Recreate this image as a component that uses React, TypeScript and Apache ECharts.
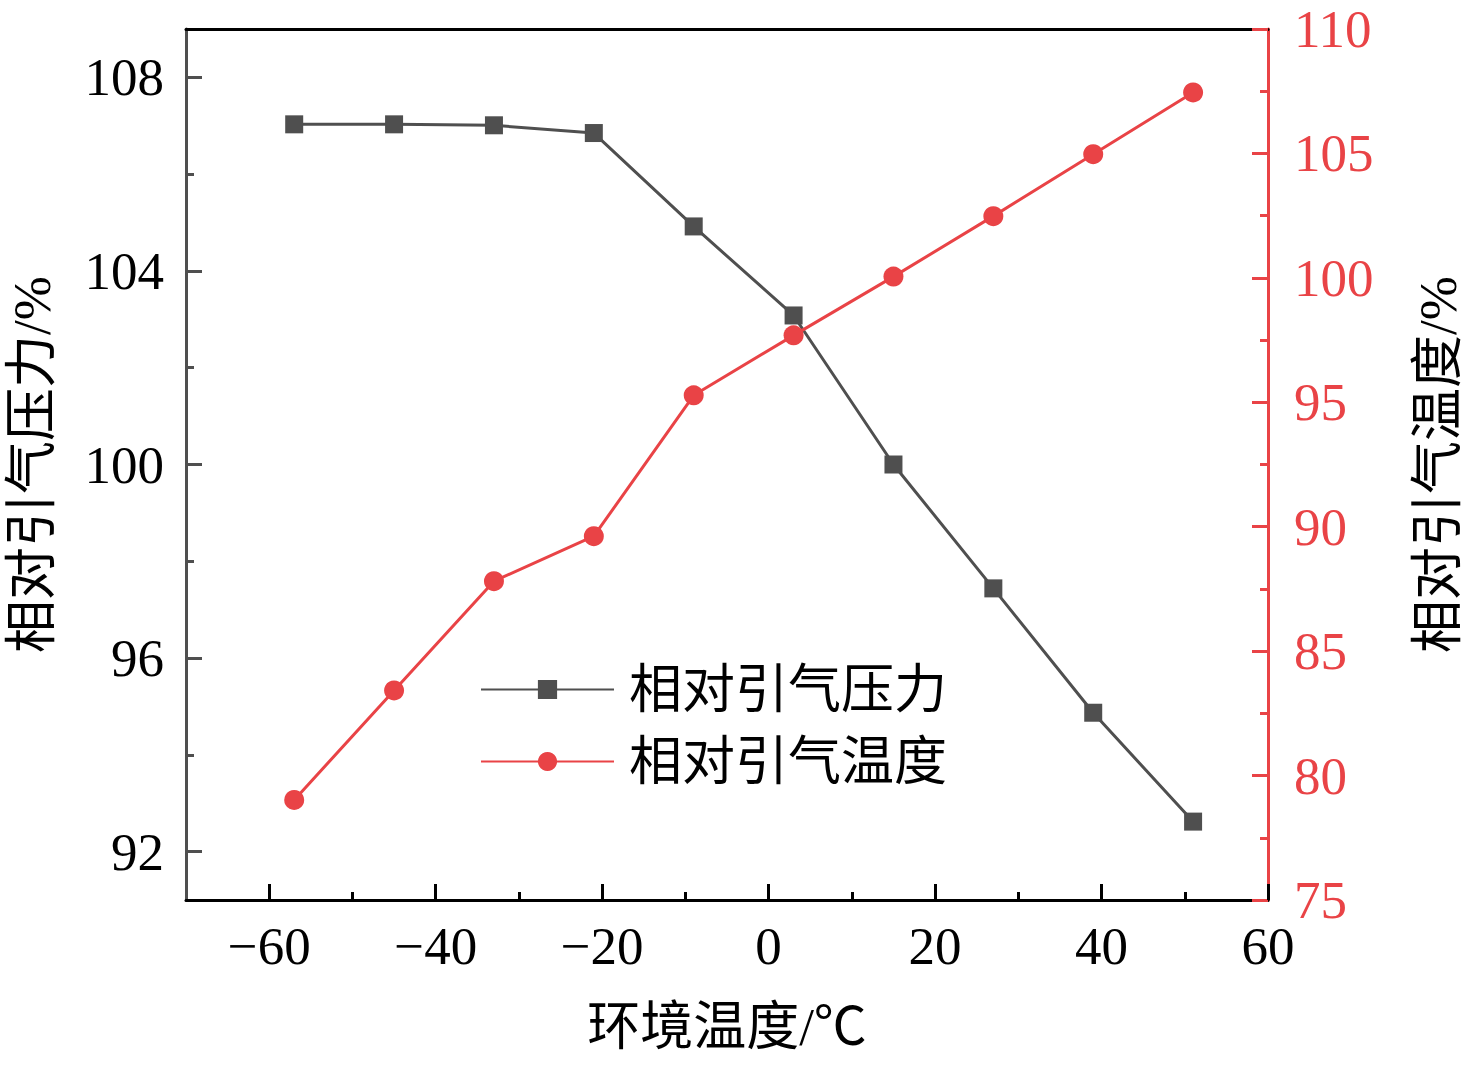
import React, { useEffect, useRef } from "react";
import * as echarts from "echarts";

const ambientTemps = [-57, -45, -33, -21, -9, 3, 15, 27, 39, 51];
const relPressure = [107.03, 107.03, 107.01, 106.85, 104.92, 103.08, 100.0, 97.44, 94.87, 92.62];
const relTemperature = [79.02, 83.42, 87.81, 89.62, 95.28, 97.69, 100.05, 102.48, 104.97, 107.45];

const xMajor = [-60, -40, -20, 0, 20, 40, 60];
const xMinor = [-50, -30, -10, 10, 30, 50];
const yLeftMajor = [92, 96, 100, 104, 108];
const yLeftMinor = [94, 98, 102, 106];

const seriesNames = ["相对引气压力", "相对引气温度"];
const xName = "环境温度/℃";
const yLeftName = "相对引气压力/%";
const yRightName = "相对引气温度/%";

const FONT = "'Liberation Serif', 'Times New Roman', 'Noto Sans CJK SC', serif";
const FS = 53;
const GRAY = "#4f4f4f";
const RED = "#e94346";

const fmt = (v: number) => String(v).replace("-", "\u2212");

export default function App() {
  const ref = useRef<HTMLDivElement>(null);
  useEffect(() => {
    document.body.style.margin = "0";
    const chart = echarts.init(ref.current!, null, { renderer: "svg" });
    const pressureData = ambientTemps.map((x, i) => [x, relPressure[i]]);
    const tempData = ambientTemps.map((x, i) => [x, relTemperature[i]]);
    chart.setOption({
      animation: false,
      backgroundColor: "#ffffff",
      textStyle: { fontFamily: FONT },
      grid: {
        left: 186,
        right: 208,
        top: 29,
        bottom: 165,
        containLabel: false,
        outerBoundsMode: "none",
      },
      legend: {
        orient: "vertical",
        left: 480,
        top: 663,
        padding: 0,
        itemWidth: 133,
        itemHeight: 24,
        itemGap: 19,
        data: seriesNames,
        textStyle: {
          fontFamily: FONT,
          fontSize: FS,
          lineHeight: 53,
          color: "#000",
          padding: [0, 0, 0, 10],
        },
      },
      xAxis: [
        {
          type: "value",
          position: "bottom",
          min: -70,
          max: 60,
          name: xName,
          nameLocation: "middle",
          nameGap: 100,
          nameTextStyle: { fontFamily: FONT, fontSize: FS, color: "#000" },
          axisLine: { show: true, onZero: false, lineStyle: { color: "#000", width: 3 } },
          axisTick: {
            show: true,
            inside: true,
            length: 16,
            customValues: xMajor,
            lineStyle: { color: "#000", width: 3 },
          },
          axisLabel: {
            show: true,
            margin: 19,
            customValues: xMajor,
            formatter: (v: number) => fmt(v),
            fontFamily: FONT,
            fontSize: FS,
            color: "#000",
          },
          splitLine: { show: false },
        },
        {
          type: "value",
          position: "bottom",
          min: -70,
          max: 60,
          axisLine: { show: false, onZero: false },
          axisTick: {
            show: true,
            inside: true,
            length: 8,
            customValues: xMinor,
            lineStyle: { color: "#000", width: 3 },
          },
          axisLabel: { show: false },
          splitLine: { show: false },
        },
        {
          type: "value",
          position: "top",
          min: -70,
          max: 60,
          axisLine: { show: true, onZero: false, lineStyle: { color: "#000", width: 3 } },
          axisTick: { show: false },
          axisLabel: { show: false },
          splitLine: { show: false },
        },
      ],
      yAxis: [
        {
          type: "value",
          position: "left",
          min: 91,
          max: 109,
          name: yLeftName,
          nameLocation: "middle",
          nameRotate: 90,
          nameGap: 128,
          nameTextStyle: { fontFamily: FONT, fontSize: FS, color: "#000" },
          axisLine: { show: true, onZero: false, lineStyle: { color: GRAY, width: 3 } },
          axisTick: {
            show: true,
            inside: true,
            length: 16,
            customValues: yLeftMajor,
            lineStyle: { color: GRAY, width: 3 },
          },
          axisLabel: {
            show: true,
            margin: 22,
            customValues: yLeftMajor,
            fontFamily: FONT,
            fontSize: FS,
            color: "#000",
          },
          splitLine: { show: false },
        },
        {
          type: "value",
          position: "right",
          min: 75,
          max: 110,
          interval: 5,
          name: yRightName,
          nameLocation: "middle",
          nameRotate: 90,
          nameGap: 143,
          nameTextStyle: { fontFamily: FONT, fontSize: FS, color: "#000" },
          axisLine: { show: true, onZero: false, lineStyle: { color: RED, width: 3 } },
          axisTick: {
            show: true,
            inside: true,
            length: 16,
            lineStyle: { color: RED, width: 3 },
          },
          minorTick: {
            show: true,
            splitNumber: 2,
            length: 8,
            lineStyle: { color: RED, width: 3 },
          },
          axisLabel: {
            show: true,
            margin: 26,
            fontFamily: FONT,
            fontSize: FS,
            color: RED,
          },
          splitLine: { show: false },
          minorSplitLine: { show: false },
        },
        {
          type: "value",
          position: "left",
          min: 91,
          max: 109,
          axisLine: { show: false, onZero: false },
          axisTick: {
            show: true,
            inside: true,
            length: 8,
            customValues: yLeftMinor,
            lineStyle: { color: GRAY, width: 3 },
          },
          axisLabel: { show: false },
          splitLine: { show: false },
        },
      ],
      series: [
        {
          name: seriesNames[0],
          type: "line",
          xAxisIndex: 0,
          yAxisIndex: 0,
          data: pressureData,
          symbol: "rect",
          symbolSize: 18,
          itemStyle: { color: GRAY },
          lineStyle: { color: GRAY, width: 3 },
          z: 3,
        },
        {
          name: seriesNames[1],
          type: "line",
          xAxisIndex: 0,
          yAxisIndex: 1,
          data: tempData,
          symbol: "circle",
          symbolSize: 20,
          itemStyle: { color: RED },
          lineStyle: { color: RED, width: 3 },
          z: 4,
        },
      ],
    });
    return () => chart.dispose();
  }, []);
  return <div ref={ref} style={{ width: 1476, height: 1065 }} />;
}
